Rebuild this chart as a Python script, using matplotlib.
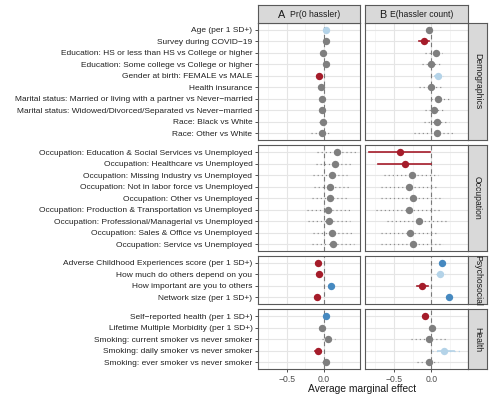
import matplotlib
matplotlib.use("Agg")
import matplotlib.pyplot as plt
import numpy as np

plt.rcParams['font.family'] = ['Liberation Sans', 'DejaVu Sans']

facets = ["Demographics", "Occupation", "Psychosocial", "Health"]

labels_demo = ["Age (per 1 SD+)", "Survey during COVID\u221219",
               "Education: HS or less than HS vs College or higher",
               "Education: Some college vs College or higher",
               "Gender at birth: FEMALE vs MALE", "Health insurance",
               "Marital status: Married or living with a partner vs Never\u2212married",
               "Marital status: Widowed/Divorced/Separated vs Never\u2212married",
               "Race: Black vs White", "Race: Other vs White"]
labels_occ = ["Occupation: Education & Social Services vs Unemployed",
              "Occupation: Healthcare vs Unemployed",
              "Occupation: Missing Industry vs Unemployed",
              "Occupation: Not in labor force vs Unemployed",
              "Occupation: Other vs Unemployed",
              "Occupation: Production & Transportation vs Unemployed",
              "Occupation: Professional/Managerial vs Unemployed",
              "Occupation: Sales & Office vs Unemployed",
              "Occupation: Service vs Unemployed"]
labels_psy = ["Adverse Childhood Experiences score (per 1 SD+)",
              "How much do others depend on you",
              "How important are you to others",
              "Network size (per 1 SD+)"]
labels_hea = ["Self\u2212reported health (per 1 SD+)",
              "Lifetime Multiple Morbidity (per 1 SD+)",
              "Smoking: current smoker vs never smoker",
              "Smoking: daily smoker vs never smoker",
              "Smoking: ever smoker vs never smoker"]

# Panel A: Pr(0 hassler)
est_A = {
    "Demographics": [0.027, 0.036, -0.014, 0.03, -0.068, -0.036, -0.027, -0.02, -0.014, -0.03],
    "Occupation": [0.18, 0.145, 0.105, 0.09, 0.08, 0.06, 0.068, 0.11, 0.12],
    "Psychosocial": [-0.077, -0.068, 0.095, -0.095],
    "Health": [0.03, -0.018, 0.06, -0.077, 0.027],
}
lo_A = {
    "Demographics": [0.01, 0.015, -0.045, 0.005, -0.095, -0.06, -0.05, -0.05, -0.07, -0.17],
    "Occupation": [-0.09, -0.10, -0.145, -0.135, -0.16, -0.23, -0.22, -0.15, -0.16],
    "Psychosocial": [-0.10, -0.095, 0.07, -0.12],
    "Health": [0.01, -0.04, -0.03, -0.115, -0.02],
}
hi_A = {
    "Demographics": [0.045, 0.058, 0.02, 0.055, -0.04, -0.01, 0.0, 0.01, 0.05, 0.10],
    "Occupation": [0.43, 0.37, 0.32, 0.34, 0.33, 0.35, 0.35, 0.39, 0.41],
    "Psychosocial": [-0.055, -0.04, 0.12, -0.07],
    "Health": [0.05, 0.005, 0.15, -0.04, 0.07],
}
sig_A = {
    "Demographics": ["lb", "g", "g", "g", "r", "g", "g", "g", "g", "g"],
    "Occupation": ["g"] * 9,
    "Psychosocial": ["r", "r", "b", "r"],
    "Health": ["b", "g", "g", "r", "g"],
}

# Panel B: E(hassler count)
est_B = {
    "Demographics": [-0.036, -0.10, 0.06, 0.0, 0.09, -0.01, 0.085, 0.03, 0.068, 0.068],
    "Occupation": [-0.42, -0.355, -0.26, -0.295, -0.25, -0.295, -0.17, -0.29, -0.25],
    "Psychosocial": [0.136, 0.118, -0.12, 0.236],
    "Health": [-0.086, 0.01, -0.03, 0.17, -0.036],
}
lo_B = {
    "Demographics": [-0.07, -0.17, -0.08, -0.12, 0.03, -0.17, -0.01, -0.09, -0.10, -0.24],
    "Occupation": [-0.83, -0.71, -0.64, -0.67, -0.67, -0.74, -0.60, -0.68, -0.68],
    "Psychosocial": [0.11, 0.06, -0.20, 0.21],
    "Health": [-0.11, -0.01, -0.27, 0.01, -0.20],
}
hi_B = {
    "Demographics": [0.0, -0.03, 0.14, 0.11, 0.15, 0.14, 0.23, 0.17, 0.24, 0.32],
    "Occupation": [-0.02, -0.003, 0.09, 0.06, 0.16, 0.14, 0.24, 0.08, 0.16],
    "Psychosocial": [0.16, 0.18, -0.04, 0.26],
    "Health": [-0.06, 0.03, 0.20, 0.38, 0.09],
}
sig_B = {
    "Demographics": ["g", "r", "g", "g", "lb", "g", "g", "g", "g", "g"],
    "Occupation": ["r", "r"] + ["g"] * 7,
    "Psychosocial": ["b", "lb", "r", "b"],
    "Health": ["r", "g", "g", "lb", "g"],
}

labels = {"Demographics": labels_demo, "Occupation": labels_occ,
          "Psychosocial": labels_psy, "Health": labels_hea}
panel_titles = [("A", "Pr(0 hassler)"), ("B", "E(hassler count)")]
xlabel = "Average marginal effect"
xticks = [-0.5, 0.0]

colors = {"r": "#A51C2A", "b": "#4689C0", "lb": "#B4D3E8", "g": "#7F7F7F"}

W, H = 490, 397
fig = plt.figure(figsize=(W / 100, H / 100), dpi=100)

def box(x0, y0, x1, y1):
    return [x0 / W, 1 - y1 / H, (x1 - x0) / W, (y1 - y0) / H]

xcols = [(258, 360), (365, 468)]
strip_x = (468, 487)
top_strip = (5, 23)
y_start, y_end, gap = 23, 369, 5
units = [len(labels[f]) + 0.2 for f in facets]
unit_px = (y_end - y_start - gap * (len(facets) - 1)) / sum(units)
xlim = (-0.89, 0.49)
border_col = "#595959"
ests = [est_A, est_B]
los = [lo_A, lo_B]
his = [hi_A, hi_B]
sigs = [sig_A, sig_B]

y0 = y_start
for fi, f in enumerate(facets):
    h = units[fi] * unit_px
    y1 = y0 + h
    n = len(labels[f])
    ypos = np.arange(n)[::-1]
    for pi in range(2):
        ax = fig.add_axes(box(xcols[pi][0], y0, xcols[pi][1], y1))
        ax.set_xlim(*xlim)
        ax.set_ylim(-0.6, n - 1 + 0.6)
        for v in [-0.75, -0.25, 0.25]:
            ax.axvline(v, color="#F2F2F2", lw=0.5, zorder=0)
        for v in xticks:
            ax.axvline(v, color="#E5E5E5", lw=0.8, zorder=0)
        for yy in ypos:
            ax.axhline(yy, color="#E5E5E5", lw=0.8, zorder=0)
        ax.axvline(0, color="#7A7A7A", lw=0.8, ls=(0, (4, 3)), zorder=1)
        e = ests[pi][f]; lo = los[pi][f]; hi = his[pi][f]; s = sigs[pi][f]
        for k in range(n):
            c = colors[s[k]]
            if s[k] == "g":
                ax.plot([lo[k], hi[k]], [ypos[k], ypos[k]], color="#8C8C8C", lw=0.85,
                        ls=(0, (1, 2.5)), zorder=2)
            elif s[k] == "lb":
                ax.plot([lo[k], hi[k]], [ypos[k], ypos[k]], color=c, lw=0.9,
                        ls=(0, (1, 2.5)), zorder=2)
                m = (lo[k] + hi[k]) / 2
                hw = (hi[k] - lo[k]) * 0.3
                ax.plot([m - hw, m + hw], [ypos[k], ypos[k]], color=c, lw=1.2, zorder=2)
            else:
                ax.plot([lo[k], hi[k]], [ypos[k], ypos[k]], color=c, lw=1.2, zorder=2)
            ax.plot(e[k], ypos[k], "o", color=c, ms=5.3, mec="none", zorder=3)
        for sp in ax.spines.values():
            sp.set_color(border_col)
            sp.set_linewidth(0.8)
        ax.set_yticks(ypos)
        if pi == 0:
            ax.set_yticklabels(labels[f], fontsize=6.0, color="#222222")
            ax.tick_params(axis="y", length=2.5, width=0.6, color="#333333", pad=1.5)
        else:
            ax.set_yticklabels([])
            ax.tick_params(axis="y", length=0)
        ax.set_xticks(xticks)
        if fi == len(facets) - 1:
            ax.set_xticklabels(["\u22120.5", "0.0"], fontsize=6.2, color="#4D4D4D")
            ax.tick_params(axis="x", length=2.5, width=0.6, color="#333333", pad=1.5)
        else:
            ax.set_xticklabels([])
            ax.tick_params(axis="x", length=0)
    # right strip
    sax = fig.add_axes(box(strip_x[0], y0, strip_x[1], y1))
    sax.set_facecolor("#D9D9D9")
    sax.set_xticks([]); sax.set_yticks([])
    for sp in sax.spines.values():
        sp.set_color(border_col); sp.set_linewidth(0.8)
    sax.text(0.5, 0.5, f, rotation=-90, ha="center", va="center",
             fontsize=6.2, color="#1A1A1A", transform=sax.transAxes)
    y0 = y1 + gap

# top strips
fig.canvas.draw()
renderer = fig.canvas.get_renderer()
for pi in range(2):
    tax = fig.add_axes(box(xcols[pi][0], top_strip[0], xcols[pi][1], top_strip[1]))
    tax.set_facecolor("#D9D9D9")
    tax.set_xticks([]); tax.set_yticks([])
    tax.set_xlim(0, 1); tax.set_ylim(0, 1)
    for sp in tax.spines.values():
        sp.set_color(border_col); sp.set_linewidth(0.8)
    big, small = panel_titles[pi]
    t1 = tax.text(0, 0.45, big, fontsize=7.8, ha="left", va="center", color="#1A1A1A")
    t2 = tax.text(0, 0.45, small, fontsize=6.2, ha="left", va="center", color="#1A1A1A")
    w1 = t1.get_window_extent(renderer).width
    w2 = t2.get_window_extent(renderer).width
    gp = 4
    wpx = xcols[pi][1] - xcols[pi][0]
    start = (wpx - (w1 + gp + w2)) / 2
    t1.set_x(start / wpx)
    t2.set_x((start + w1 + gp) / wpx)

fig.text(362 / W, 1 - 389 / H, xlabel,
         ha="center", va="center", fontsize=7.4, color="#1A1A1A")

fig.savefig("out.png", dpi=100)
